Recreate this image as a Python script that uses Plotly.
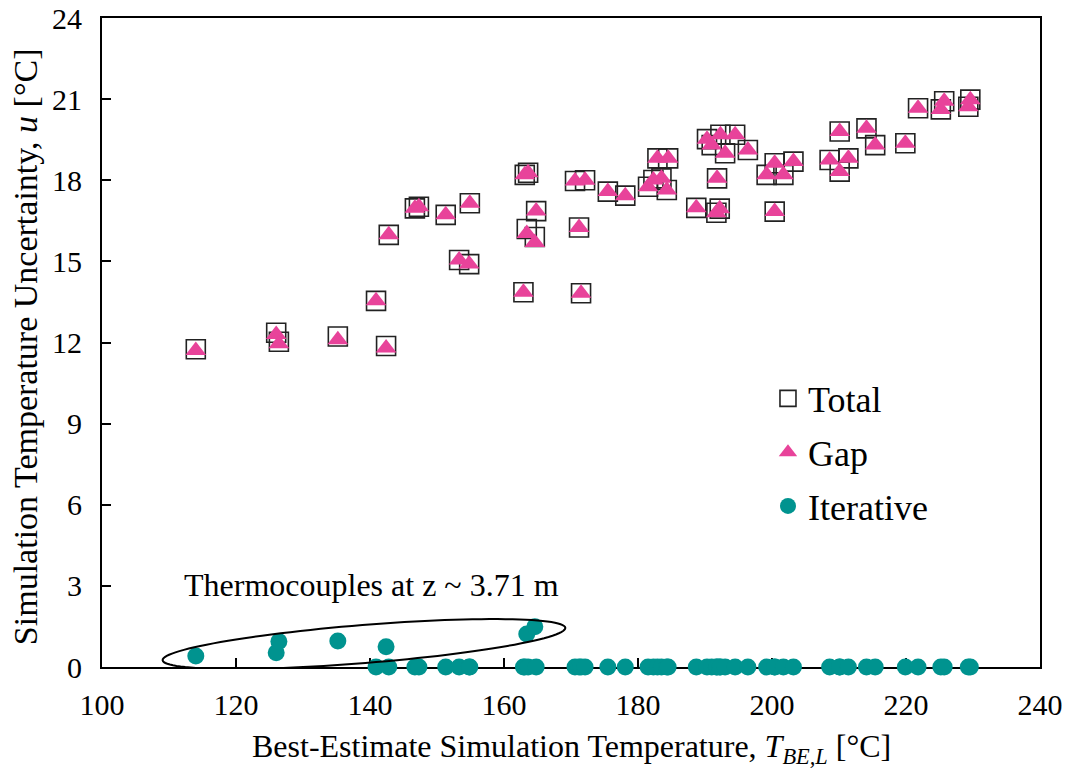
import numpy as np
import plotly.graph_objects as go

# Best-estimate simulation temperature T_BE,L [°C]
t_be = [114.0, 126.0, 126.4, 135.2, 140.9, 142.4, 142.8, 146.7, 147.3, 151.3,
        153.3, 154.8, 154.9, 162.9, 163.1, 163.4, 163.6, 164.6, 164.8, 170.6,
        171.2, 171.5, 172.1, 175.5, 178.1, 181.5, 182.3, 182.9, 183.5, 184.3,
        184.5, 188.7, 190.3, 191.0, 191.7, 191.8, 192.2, 192.3, 193.0, 194.5,
        196.4, 199.2, 200.4, 200.4, 201.7, 203.2, 208.6, 210.1, 210.1, 211.4,
        214.1, 215.4, 219.9, 221.8, 225.2, 225.7, 229.3, 229.6]

# Total simulation temperature uncertainty u [°C]
u_total = [11.75, 12.36, 12.03, 12.22, 13.54, 11.87, 15.98, 16.96, 17.02, 16.72,
           15.05, 14.90, 17.15, 13.86, 18.20, 16.20, 18.28, 15.90, 16.86, 17.97,
           16.25, 13.82, 18.00, 17.58, 17.43, 17.76, 18.01, 18.81, 18.07, 17.64,
           18.81, 16.98, 19.52, 19.30, 16.80, 18.07, 16.95, 19.68, 19.00, 19.68,
           19.12, 18.20, 18.63, 16.84, 18.20, 18.69, 18.75, 19.80, 18.32, 18.81,
           19.92, 19.30, 19.37, 20.66, 20.62, 20.92, 20.72, 20.98]

# Gap (discretisation) contribution [°C]
u_gap = [11.70, 12.30, 11.95, 12.10, 13.54, 11.80, 15.98, 16.96, 17.02, 16.72,
         15.05, 14.90, 17.15, 13.86, 18.20, 16.03, 18.28, 15.70, 16.86, 17.97,
         16.25, 13.82, 18.00, 17.58, 17.43, 17.76, 18.01, 18.81, 18.07, 17.64,
         18.81, 16.98, 19.52, 19.30, 16.80, 18.07, 16.95, 19.68, 19.00, 19.68,
         19.12, 18.20, 18.63, 16.84, 18.20, 18.69, 18.75, 19.80, 18.32, 18.81,
         19.92, 19.30, 19.37, 20.66, 20.62, 20.92, 20.72, 20.98]

# Iterative convergence contribution [°C]
u_iter = [0.41, 0.53, 0.94, 0.96, 0.00, 0.75, 0.00, 0.00, 0.00, 0.00,
          0.00, 0.00, 0.00, 0.00, 0.00, 1.22, 0.00, 1.49, 0.00, 0.00,
          0.00, 0.00, 0.00, 0.00, 0.00, 0.00, 0.00, 0.00, 0.00, 0.00,
          0.00, 0.00, 0.00, 0.00, 0.00, 0.00, 0.00, 0.00, 0.00, 0.00,
          0.00, 0.00, 0.00, 0.00, 0.00, 0.00, 0.00, 0.00, 0.00, 0.00,
          0.00, 0.00, 0.00, 0.00, 0.00, 0.00, 0.00, 0.00]

x_ticks = [100, 120, 140, 160, 180, 200, 220, 240]
y_ticks = [0, 3, 6, 9, 12, 15, 18, 21, 24]

FONT = "Liberation Serif, Times New Roman, serif"
PINK = "#E8439A"
TEAL = "#00938F"

W, H = 1074, 771
M = dict(l=102, r=34, t=18, b=104)
X_RANGE = [100, 240]
Y_RANGE = [0, 24]

fig = go.Figure()

fig.add_trace(go.Scatter(
    x=t_be, y=u_total, mode="markers", name="Total", legendgroup="a",
    cliponaxis=False,
    marker=dict(symbol="square-open", size=19, color="#222222",
                line=dict(width=1.6, color="#222222")),
))
fig.add_trace(go.Scatter(
    x=t_be, y=u_gap, mode="markers", name="Gap", legendgroup="b",
    cliponaxis=False,
    marker=dict(symbol="triangle-up", size=18, color=PINK),
))
fig.add_trace(go.Scatter(
    x=t_be, y=u_iter, mode="markers", name="Iterative", legendgroup="c",
    cliponaxis=False,
    marker=dict(symbol="circle", size=17, color=TEAL),
))

# Tilted ellipse around the thermocouple points near z ~ 3.71 m,
# defined in screen pixels and mapped back onto the data axes.
px_per_x = (W - M["l"] - M["r"]) / (X_RANGE[1] - X_RANGE[0])
px_per_y = (H - M["t"] - M["b"]) / (Y_RANGE[1] - Y_RANGE[0])
cx, cy = 139.1, 0.85
a_px, b_px, tilt = 202.0, 19.0, np.deg2rad(4.6)
th = np.linspace(0, 2 * np.pi, 121)
ex = a_px * np.cos(th) * np.cos(tilt) - b_px * np.sin(th) * np.sin(tilt)
ey = a_px * np.cos(th) * np.sin(tilt) + b_px * np.sin(th) * np.cos(tilt)
xs = cx + ex / px_per_x
ys = cy + ey / px_per_y
path = "M " + " L ".join(f"{x:.4f},{y:.4f}" for x, y in zip(xs, ys)) + " Z"
fig.add_shape(type="path", path=path, xref="x", yref="y",
              line=dict(color="black", width=2), layer="above")

fig.add_annotation(x=111.9, y=3.03, xref="x", yref="y", xanchor="left",
                   yanchor="middle", text="Thermocouples at z ~ 3.71 m",
                   showarrow=False, font=dict(family=FONT, size=32, color="black"))

# Axis titles
fig.add_annotation(x=0.5, y=-0.125, xref="paper", yref="paper",
                   xanchor="center", yanchor="middle", showarrow=False,
                   text="Best-Estimate Simulation Temperature, <i>T</i><sub><i>BE,L</i></sub> [°C]",
                   font=dict(family=FONT, size=32, color="black"))
fig.add_annotation(x=-0.082, y=0.493, xref="paper", yref="paper",
                   xanchor="center", yanchor="middle", showarrow=False, textangle=-90,
                   text="Simulation Temperature Uncertainty, <i>u</i> [°C]",
                   font=dict(family=FONT, size=34, color="black"))

axis_common = dict(
    showline=True, linecolor="black", linewidth=2, mirror=True,
    ticks="inside", ticklen=9, tickwidth=2, tickcolor="black",
    showgrid=False, zeroline=False, automargin=False, layer="below traces",
    tickfont=dict(family=FONT, size=30, color="black"),
)

fig.update_xaxes(range=X_RANGE, tickvals=x_ticks, ticktext=[str(v) for v in x_ticks],
                 ticklabelstandoff=10, **axis_common)
fig.update_yaxes(range=Y_RANGE, tickvals=y_ticks, ticktext=[str(v) for v in y_ticks],
                 ticklabelstandoff=12, **axis_common)

fig.update_layout(
    width=W, height=H, margin=dict(M, autoexpand=False),
    plot_bgcolor="white", paper_bgcolor="white",
    font=dict(family=FONT, color="black"),
    legend=dict(x=0.71, y=0.46, xanchor="left", yanchor="top",
                bgcolor="rgba(0,0,0,0)", traceorder="grouped", tracegroupgap=4,
                font=dict(family=FONT, size=36, color="black")),
)

fig.write_html("out.html")
